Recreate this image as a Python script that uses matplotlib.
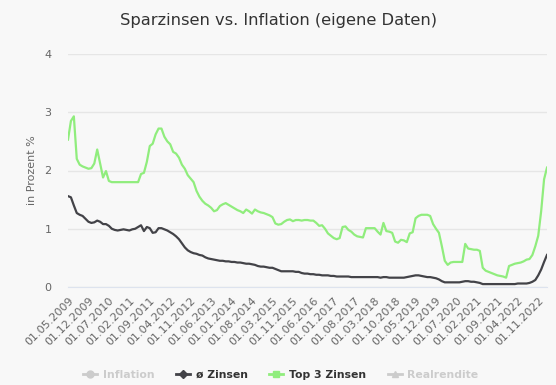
import matplotlib
matplotlib.use("Agg")
import matplotlib.pyplot as plt
from matplotlib.lines import Line2D
import pandas as pd

# ---- data ----
_months = pd.date_range("2009-05-01", periods=166, freq="MS")
_months = [m for m in _months if m.strftime("%Y-%m") != "2015-07"]  # one month missing in source
dates = [d.strftime("%d.%m.%Y") for d in _months]

top3_zinsen = [
    2.53, 2.85, 2.93, 2.20, 2.10, 2.07, 2.05, 2.03, 2.04, 2.12,
    2.36, 2.12, 1.88, 1.99, 1.82, 1.80, 1.80, 1.80, 1.80, 1.80,
    1.80, 1.80, 1.80, 1.80, 1.80, 1.94, 1.96, 2.15, 2.42, 2.46,
    2.62, 2.72, 2.72, 2.58, 2.50, 2.45, 2.32, 2.29, 2.22, 2.10,
    2.03, 1.92, 1.86, 1.80, 1.65, 1.55, 1.48, 1.43, 1.40, 1.36,
    1.30, 1.32, 1.39, 1.42, 1.44, 1.41, 1.38, 1.35, 1.32, 1.30,
    1.27, 1.33, 1.30, 1.26, 1.33, 1.30, 1.28, 1.27, 1.25, 1.23,
    1.20, 1.09, 1.07, 1.08, 1.12, 1.15, 1.16, 1.13, 1.15, 1.15,
    1.14, 1.15, 1.15, 1.14, 1.14, 1.10, 1.05, 1.06, 1.00, 0.92,
    0.88, 0.84, 0.82, 0.84, 1.03, 1.04, 0.98, 0.95, 0.90, 0.87,
    0.86, 0.85, 1.01, 1.01, 1.01, 1.01, 0.95, 0.90, 1.10, 0.96,
    0.95, 0.93, 0.78, 0.76, 0.81, 0.80, 0.77, 0.92, 0.94, 1.18,
    1.22, 1.24, 1.24, 1.24, 1.22, 1.08, 1.00, 0.93, 0.70, 0.45,
    0.38, 0.42, 0.43, 0.43, 0.43, 0.43, 0.74, 0.66, 0.65, 0.64,
    0.64, 0.62, 0.33, 0.28, 0.26, 0.24, 0.22, 0.20, 0.19, 0.18,
    0.16, 0.36, 0.38, 0.40, 0.41, 0.42, 0.44, 0.47, 0.48, 0.55,
    0.70, 0.88, 1.30, 1.85, 2.05,
]

avg_zinsen = [
    1.56, 1.54, 1.40, 1.27, 1.24, 1.22, 1.17, 1.12, 1.10, 1.11,
    1.14, 1.12, 1.08, 1.08, 1.05, 1.00, 0.98, 0.97, 0.98, 0.99,
    0.98, 0.97, 0.99, 1.00, 1.03, 1.06, 0.96, 1.03, 1.01, 0.93,
    0.94, 1.01, 1.01, 0.99, 0.97, 0.94, 0.91, 0.87, 0.82, 0.75,
    0.68, 0.63, 0.60, 0.58, 0.57, 0.55, 0.54, 0.51, 0.49, 0.48,
    0.47, 0.46, 0.45, 0.45, 0.44, 0.44, 0.43, 0.43, 0.42, 0.42,
    0.41, 0.40, 0.40, 0.39, 0.38, 0.36, 0.35, 0.35, 0.34, 0.33,
    0.33, 0.31, 0.29, 0.27, 0.27, 0.27, 0.27, 0.27, 0.26, 0.26,
    0.24, 0.23, 0.23, 0.22, 0.22, 0.21, 0.21, 0.20, 0.20, 0.20,
    0.19, 0.19, 0.18, 0.18, 0.18, 0.18, 0.18, 0.17, 0.17, 0.17,
    0.17, 0.17, 0.17, 0.17, 0.17, 0.17, 0.17, 0.16, 0.17, 0.17,
    0.16, 0.16, 0.16, 0.16, 0.16, 0.16, 0.17, 0.18, 0.19, 0.20,
    0.20, 0.19, 0.18, 0.17, 0.17, 0.16, 0.15, 0.13, 0.10, 0.08,
    0.08, 0.08, 0.08, 0.08, 0.08, 0.09, 0.10, 0.10, 0.09, 0.09,
    0.08, 0.07, 0.05, 0.05, 0.05, 0.05, 0.05, 0.05, 0.05, 0.05,
    0.05, 0.05, 0.05, 0.05, 0.06, 0.06, 0.06, 0.06, 0.07, 0.09,
    0.12, 0.20, 0.30, 0.43, 0.55,
]

y_ticks = [0, 1, 2, 3, 4]
legend_labels = ["Inflation", "ø Zinsen", "Top 3 Zinsen", "Realrendite"]

# ---- figure ----
BG = "#f8f8f8"
fig = plt.figure(figsize=(5.56, 3.85), dpi=100, facecolor=BG)
ax = fig.add_axes([68/556, 1-287/385, (547-68)/556, (287-54)/385], facecolor=BG)

x = list(range(len(dates)))
ax.plot(x, avg_zinsen, color="#434348", lw=1.6, solid_joinstyle="round", zorder=3)
ax.plot(x, top3_zinsen, color="#90ed7d", lw=1.6, solid_joinstyle="round", zorder=3)

ax.set_xlim(0, len(dates) - 1)
ax.set_ylim(0, 4)
ax.set_yticks(y_ticks)
ax.set_yticklabels([str(t) for t in y_ticks])
ax.yaxis.grid(True, color="#e6e6e6", lw=1)
ax.set_axisbelow(True)
for s in ax.spines.values():
    s.set_visible(False)
ax.spines["bottom"].set_visible(True)
ax.spines["bottom"].set_color("#dde3ee")
ax.tick_params(axis="y", length=0, pad=12, labelsize=8, labelcolor="#666666")

tick_idx = list(range(0, len(dates), 7))
ax.set_xticks(tick_idx)
ax.set_xticklabels([dates[i] for i in tick_idx], rotation=45, ha="right",
                   rotation_mode="anchor", fontsize=8, color="#666666")
ax.tick_params(axis="x", length=0, pad=6)

ax.set_ylabel("in Prozent %", fontsize=8, color="#666666", labelpad=5)

fig.text(0.5, 1-20/385, "Sparzinsen vs. Inflation (eigene Daten)", ha="center", va="center",
         fontsize=11.7, color="#333333")

handles = [
    Line2D([], [], color="#cccccc", lw=2, marker="o", markersize=5),
    Line2D([], [], color="#434348", lw=2, marker="D", markersize=4),
    Line2D([], [], color="#90ed7d", lw=2, marker="s", markersize=5),
    Line2D([], [], color="#cccccc", lw=2, marker="^", markersize=5),
]
leg = fig.legend(handles, legend_labels, loc="center", bbox_to_anchor=(0.505, 1-375/385),
                 ncol=4, frameon=False, handlelength=1.3, handletextpad=0.5,
                 columnspacing=2.0, prop={"weight": "bold", "size": 7.8})
for t, c in zip(leg.get_texts(), ["#cccccc", "#333333", "#333333", "#cccccc"]):
    t.set_color(c)

fig.savefig("out.png", dpi=100, facecolor=BG)
